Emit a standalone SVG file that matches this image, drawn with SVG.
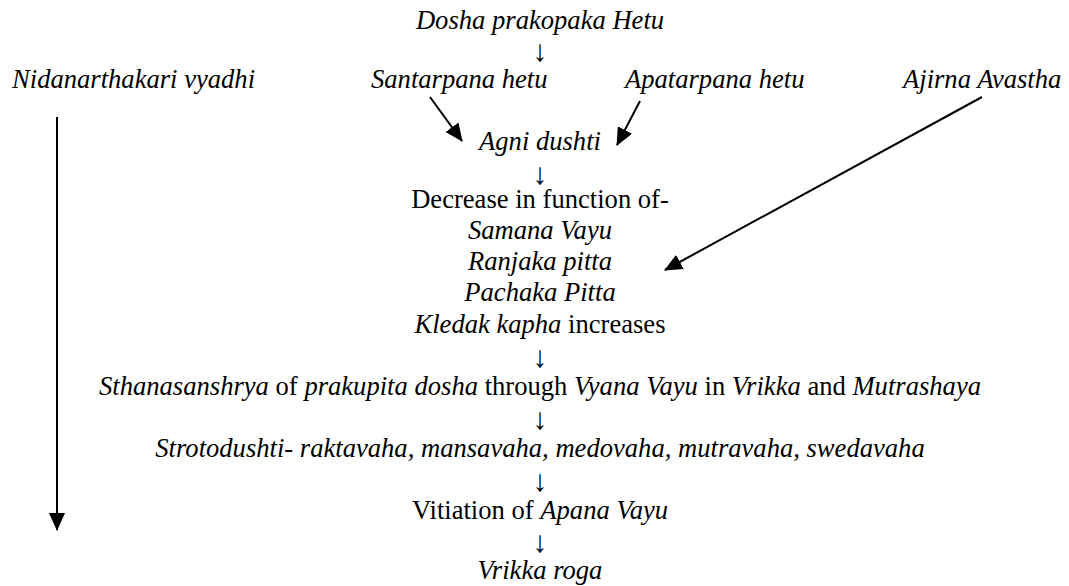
<svg xmlns="http://www.w3.org/2000/svg" width="1069" height="586" viewBox="0 0 1069 586">
<defs>
<style>
text{font-family:'Liberation Serif','Times New Roman',Times,serif;font-size:26.6px;fill:#000}
.i{font-style:italic}
.c{text-anchor:middle}
.ar{font-size:30px}
.conn{stroke:#000;stroke-width:2;fill:none}
</style>
<marker id="ah" markerWidth="18" markerHeight="16" refX="17" refY="8" orient="auto" markerUnits="userSpaceOnUse">
<path d="M0,0 L18,8 L0,16 Z" fill="#000"/>
</marker>
</defs>
<rect width="1069" height="586" fill="#fff"/>
<g id="dosha"><text class="i c" x="540" y="29">Dosha prakopaka Hetu</text></g>
<g id="a1"><text class="c ar" x="540" y="61">↓</text></g>
<g id="nidan"><text class="i" x="12" y="88">Nidanarthakari vyadhi</text></g>
<g id="santarpana"><text class="i" x="371" y="88">Santarpana hetu</text></g>
<g id="apatarpana"><text class="i" x="625" y="88">Apatarpana hetu</text></g>
<g id="ajirna"><text class="i" x="903" y="88">Ajirna Avastha</text></g>
<g id="agni"><text class="i c" x="540" y="150">Agni dushti</text></g>
<g id="a2"><text class="c ar" x="540" y="184">↓</text></g>
<g id="decrease">
<text class="c" x="540" y="208">Decrease in function of-</text>
<text class="i c" x="540" y="239">Samana Vayu</text>
<text class="i c" x="540" y="270">Ranjaka pitta</text>
<text class="i c" x="540" y="301">Pachaka Pitta</text>
<text class="c" x="540" y="333"><tspan class="i">Kledak kapha</tspan> increases</text>
</g>
<g id="a3"><text class="c ar" x="540" y="367">↓</text></g>
<g id="sthana"><text class="c" x="540" y="395"><tspan class="i">Sthanasanshrya</tspan> of <tspan class="i">prakupita dosha</tspan> through <tspan class="i">Vyana Vayu</tspan> in <tspan class="i">Vrikka</tspan> and <tspan class="i">Mutrashaya</tspan></text></g>
<g id="a4"><text class="c ar" x="540" y="429">↓</text></g>
<g id="sroto"><text class="i c" x="540" y="457">Strotodushti- raktavaha, mansavaha, medovaha, mutravaha, swedavaha</text></g>
<g id="a5"><text class="c ar" x="540" y="491">↓</text></g>
<g id="apana"><text class="c" x="540" y="519">Vitiation of <tspan class="i">Apana Vayu</tspan></text></g>
<g id="a6"><text class="c ar" x="540" y="552">↓</text></g>
<g id="vrikka"><text class="i c" x="540" y="579">Vrikka roga</text></g>
<g id="connectors">
<line class="conn" x1="57" y1="117" x2="57" y2="530" marker-end="url(#ah)"/>
<line class="conn" x1="430" y1="97" x2="462" y2="141" marker-end="url(#ah)"/>
<line class="conn" x1="640" y1="101" x2="617" y2="145" marker-end="url(#ah)"/>
<line class="conn" x1="982" y1="97" x2="665" y2="270" marker-end="url(#ah)"/>
</g>
</svg>
